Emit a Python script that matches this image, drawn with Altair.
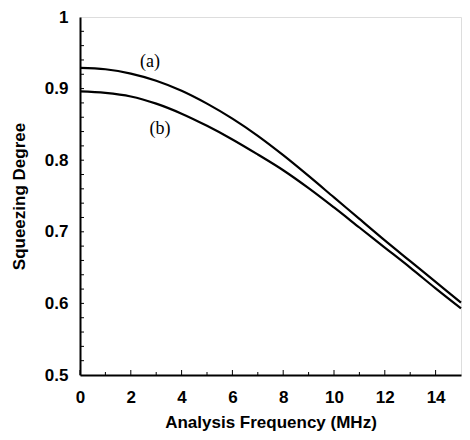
import altair as alt
import pandas as pd

# ---- data ----
freq = [0, 1, 2, 3, 4, 5, 6, 7, 8, 9, 10, 11, 12, 13, 14, 15]
squeeze_a = [0.929, 0.927, 0.921, 0.911, 0.897, 0.879, 0.858, 0.834, 0.807,
             0.778, 0.748, 0.718, 0.688, 0.659, 0.630, 0.601]
squeeze_b = [0.896, 0.894, 0.889, 0.879, 0.865, 0.848, 0.829, 0.808, 0.786,
             0.761, 0.734, 0.706, 0.678, 0.650, 0.621, 0.593]

label_text = ["(a)", "(b)"]
label_freq = [2.76, 3.15]
label_deg = [0.9375, 0.844]

x_tick_labels = [0, 2, 4, 6, 8, 10, 12, 14]
y_tick_labels = [0.5, 0.6, 0.7, 0.8, 0.9, 1.0]
x_major_ticks = [0, 2, 4, 6, 8, 10, 12, 14]
x_minor_ticks = [1, 3, 5, 7, 9, 11, 13]
y_ticks = [0.52, 0.54, 0.56, 0.58, 0.6, 0.62, 0.64, 0.66, 0.68, 0.7, 0.72,
           0.74, 0.76, 0.78, 0.8, 0.82, 0.84, 0.86, 0.88, 0.9, 0.92, 0.94,
           0.96, 0.98]

W, H = 381, 358
FONT = "Liberation Sans"

lines_df = pd.DataFrame({
    "f": freq * 2,
    "s": squeeze_a + squeeze_b,
    "curve": ["a"] * len(freq) + ["b"] * len(freq),
})
labels_df = pd.DataFrame({"f": label_freq, "s": label_deg, "t": label_text})
xmaj_df = pd.DataFrame({"f": x_major_ticks})
xmin_df = pd.DataFrame({"f": x_minor_ticks})
yt_df = pd.DataFrame({"s": y_ticks})

xscale = alt.Scale(domain=[0, 15], nice=False, zero=False)
yscale = alt.Scale(domain=[0.5, 1.0], nice=False, zero=False)

xaxis = alt.Axis(
    title="Analysis Frequency (MHz)", values=x_tick_labels, ticks=False,
    grid=False, labelFont=FONT, labelFontSize=17, labelFontWeight="bold",
    labelColor="black", labelPadding=14, labelFlush=False,
    titleFont=FONT, titleFontSize=17, titleFontWeight="bold",
    titleColor="black", titlePadding=9,
    domainColor="black", domainWidth=2,
)
yaxis = alt.Axis(
    title="Squeezing Degree", values=y_tick_labels, ticks=False, format=".1~f",
    grid=False, labelFont=FONT, labelFontSize=17, labelFontWeight="bold",
    labelColor="black", labelPadding=12, labelFlush=False,
    titleFont=FONT, titleFontSize=17, titleFontWeight="bold",
    titleColor="black", titlePadding=16,
    domainColor="black", domainWidth=2,
)

base_lines = alt.Chart(lines_df).mark_line(
    color="black", strokeWidth=2.2, interpolate="monotone"
).encode(
    x=alt.X("f:Q", scale=xscale, axis=xaxis),
    y=alt.Y("s:Q", scale=yscale, axis=yaxis),
    detail="curve:N",
)

text = alt.Chart(labels_df).mark_text(
    font="Liberation Serif", fontSize=18, color="black"
).encode(
    x=alt.X("f:Q", scale=xscale),
    y=alt.Y("s:Q", scale=yscale),
    text="t:N",
)

xmaj = alt.Chart(xmaj_df).mark_rule(color="black", strokeWidth=1).encode(
    x=alt.X("f:Q", scale=xscale), y=alt.value(H), y2=alt.value(H - 5)
)
xmin = alt.Chart(xmin_df).mark_rule(color="black", strokeWidth=1).encode(
    x=alt.X("f:Q", scale=xscale), y=alt.value(H), y2=alt.value(H - 3)
)
yt = alt.Chart(yt_df).mark_rule(color="black", strokeWidth=1).encode(
    y=alt.Y("s:Q", scale=yscale), x=alt.value(0), x2=alt.value(4)
)

chart = alt.layer(xmaj, xmin, yt, base_lines, text).properties(
    width=W, height=H,
    autosize=alt.AutoSizeParams(type="none"),
    padding={"left": 72, "top": 9, "right": 1, "bottom": 57},
).configure_view(
    stroke="black", strokeWidth=1.5
).configure(background="white")

chart.save("out.html", embed_options={"renderer": "svg", "actions": False})
